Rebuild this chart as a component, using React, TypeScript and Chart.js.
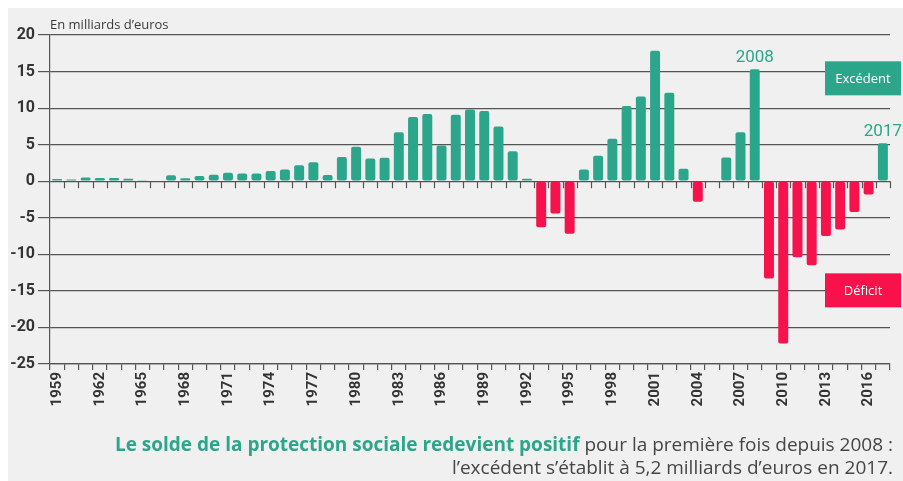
import React, { useEffect, useRef } from "react";
import { Chart, registerables } from "chart.js";

Chart.register(...registerables);

const years: string[] = [
  "1959","1960","1961","1962","1963","1964","1965","1966","1967","1968",
  "1969","1970","1971","1972","1973","1974","1975","1976","1977","1978",
  "1979","1980","1981","1982","1983","1984","1985","1986","1987","1988",
  "1989","1990","1991","1992","1993","1994","1995","1996","1997","1998",
  "1999","2000","2001","2002","2003","2004","2005","2006","2007","2008",
  "2009","2010","2011","2012","2013","2014","2015","2016","2017",
];

const solde: number[] = [
  0.3, 0.25, 0.5, 0.45, 0.45, 0.35, 0.15, 0, 0.8, 0.4,
  0.7, 0.9, 1.15, 1.05, 1.05, 1.4, 1.6, 2.2, 2.6, 0.85,
  3.3, 4.7, 3.1, 3.2, 6.7, 8.8, 9.2, 4.9, 9.1, 9.8,
  9.6, 7.5, 4.1, 0.35, -6.3, -4.4, -7.2, 1.6, 3.5, 5.8,
  10.3, 11.6, 17.85, 12.1, 1.7, -2.8, 0, 3.25, 6.7, 15.3,
  -13.3, -22.2, -10.4, -11.5, -7.5, -6.6, -4.2, -1.8, 5.2,
];

const yTicks: number[] = [20, 15, 10, 5, 0, -5, -10, -15, -20, -25];
const highlightedYears: string[] = ["2008", "2017"];

const GREEN = "#2ba68a";
const RED = "#f7124c";
const GRID = "#555555";
const TEXT = "#333333";

const overlayPlugin = {
  id: "overlay",
  afterDraw(chart: any) {
    const ctx = chart.ctx;
    const x = chart.scales.x;
    const y = chart.scales.y;
    const area = chart.chartArea;
    const y0 = y.getPixelForValue(0);
    const half = (x.getPixelForValue(1) - x.getPixelForValue(0)) / 2;
    ctx.save();
    // small ticks under the zero line
    ctx.strokeStyle = GRID;
    ctx.lineWidth = 1.2;
    for (let i = 0; i <= years.length; i++) {
      const px = Math.round(x.getPixelForValue(i) - half) + 0.5;
      if (px <= area.left + 1) continue;
      ctx.beginPath();
      ctx.moveTo(px, y0);
      ctx.lineTo(px, y0 + 7);
      ctx.stroke();
    }
    // year annotations
    ctx.fillStyle = GREEN;
    ctx.font = "17px Roboto";
    ctx.textAlign = "center";
    ctx.textBaseline = "bottom";
    highlightedYears.forEach((yr) => {
      const i = years.indexOf(yr);
      const v = solde[i];
      ctx.fillText(yr, x.getPixelForValue(i), y.getPixelForValue(v) - 3);
    });
    // legend boxes
    const bx = area.right - 65;
    const bw = 76;
    const bh = 34;
    const drawBox = (label: string, color: string, top: number) => {
      ctx.fillStyle = color;
      ctx.fillRect(bx, top, bw, bh);
      ctx.fillStyle = "#ffffff";
      ctx.font = "500 13px 'Open Sans'";
      ctx.textAlign = "center";
      ctx.textBaseline = "middle";
      ctx.fillText(label, bx + bw / 2, top + bh / 2 + 1);
    };
    drawBox("Excédent", GREEN, y.getPixelForValue(16.4));
    drawBox("Déficit", RED, y.getPixelForValue(-12.6));
    // unit label
    ctx.fillStyle = "#3a3a3a";
    ctx.font = "13px 'Open Sans'";
    ctx.textAlign = "left";
    ctx.textBaseline = "bottom";
    ctx.fillText("En milliards d\u2019euros", area.left, area.top - 3);
    ctx.restore();
  },
};

export default function App() {
  const ref = useRef<HTMLCanvasElement | null>(null);

  useEffect(() => {
    if (!ref.current) return;
    const chart = new Chart(ref.current, {
      type: "bar",
      data: {
        labels: years,
        datasets: [
          {
            data: solde,
            backgroundColor: solde.map((v) => (v >= 0 ? GREEN : RED)),
            barPercentage: 0.7,
            categoryPercentage: 1,
            borderRadius: 2,
            borderSkipped: false,
          },
        ],
      },
      options: {
        responsive: false,
        animation: false,
        layout: { padding: { top: 27, right: 13, left: 0, bottom: 0 } },
        plugins: {
          legend: { display: false },
          tooltip: { enabled: false },
        },
        scales: {
          x: {
            offset: true,
            afterFit: (s: any) => {
              s.height = 117;
            },
            grid: {
              offset: true,
              drawOnChartArea: false,
              drawTicks: true,
              tickLength: 6,
              color: GRID,
              lineWidth: 1.2,
            },
            border: { display: true, color: GRID, width: 1.2 },
            ticks: {
              autoSkip: false,
              maxRotation: 90,
              minRotation: 90,
              padding: 2,
              color: TEXT,
              font: { family: "Roboto", size: 15, weight: "bold" },
              callback: (_v: any, i: number) =>
                (Number(years[i]) - 1959) % 3 === 0 ? years[i] : "",
            },
          },
          y: {
            min: -25,
            max: 20,
            afterFit: (s: any) => {
              s.width = 42;
            },
            afterBuildTicks: (s: any) => {
              s.ticks = yTicks.map((v) => ({ value: v }));
            },
            grid: {
              color: GRID,
              lineWidth: 1.2,
              tickLength: 12,
            },
            border: { display: true, color: GRID, width: 1.2 },
            ticks: {
              padding: 3,
              color: TEXT,
              font: { family: "Roboto", size: 16, weight: "bold" },
            },
          },
        },
      },
      plugins: [overlayPlugin],
    });
    return () => chart.destroy();
  }, []);

  return (
    <div
      style={{
        position: "fixed",
        left: 8,
        top: 8,
        right: 0,
        bottom: 0,
        background: "#f1f0f1",
        overflow: "hidden",
      }}
    >
      <canvas ref={ref} width={895} height={473} style={{ display: "block" }} />
      <div
        style={{
          position: "absolute",
          right: 10,
          top: 425,
          textAlign: "right",
          fontFamily: "'Open Sans'",
          fontSize: 19,
          lineHeight: "23px",
          color: "#454545",
          whiteSpace: "nowrap",
        }}
      >
        <div>
          <span style={{ color: GREEN, fontWeight: 700 }}>
            Le solde de la protection sociale redevient positif
          </span>{" "}
          pour la première fois depuis 2008 :
        </div>
        <div>l’excédent s’établit à 5,2 milliards d’euros en 2017.</div>
      </div>
    </div>
  );
}
